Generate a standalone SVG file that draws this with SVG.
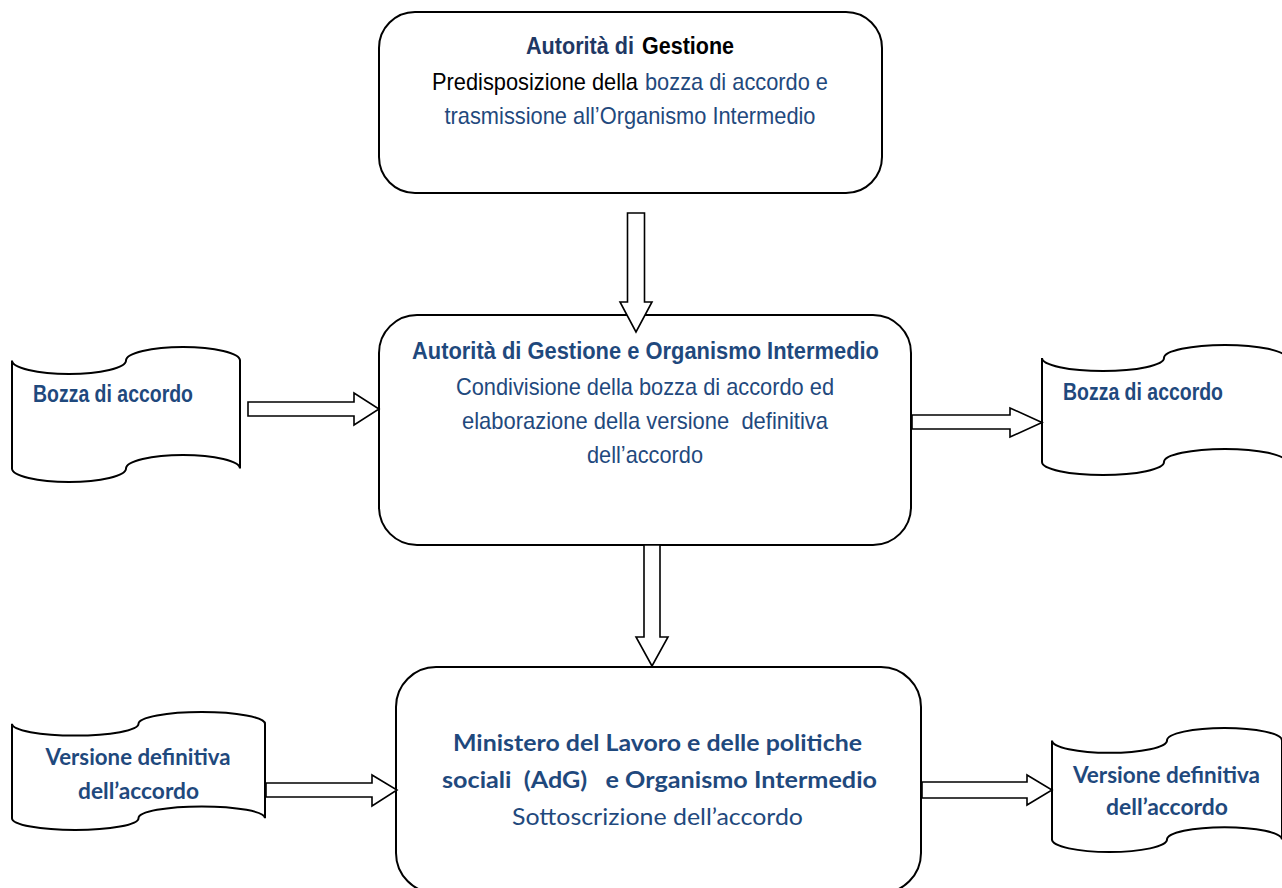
<svg xmlns="http://www.w3.org/2000/svg" width="1282" height="888" viewBox="0 0 1282 888">
  <style>
    .box { fill: #ffffff; stroke: #000000; stroke-width: 2; }
    .tape { fill: #ffffff; stroke: #000000; stroke-width: 2; }
    .arrow { fill: #ffffff; stroke: #000000; stroke-width: 1.6; stroke-linejoin: miter; }
    .ar { font-family: "Liberation Sans", Arial, sans-serif; font-size: 24px; }
    .arb { font-family: "Liberation Sans", Arial, sans-serif; font-size: 23px; font-weight: bold; }
    .cal { font-family: Lato, "Liberation Sans", sans-serif; font-size: 23px; }
    .calb { font-family: Lato, "Liberation Sans", sans-serif; font-size: 23px; font-weight: bold; }
    .calt { font-family: Lato, "Liberation Sans", sans-serif; font-size: 22px; font-weight: bold; }
    .blue { fill: #1F497D; }
    .navy { fill: #1F3864; }
    .black { fill: #000000; }
    .mid { text-anchor: middle; }
  </style>

  <g id="node-adg">
    <rect class="box" x="379" y="12" width="503" height="181" rx="36" ry="36"/>
    <text class="arb navy" x="526" y="54" textLength="108" lengthAdjust="spacingAndGlyphs">Autorità di</text>
    <text class="arb black" x="642" y="54" textLength="92" lengthAdjust="spacingAndGlyphs">Gestione</text>
    <text class="ar black" x="432" y="90" textLength="206" lengthAdjust="spacingAndGlyphs">Predisposizione della</text>
    <text class="ar blue" x="645" y="90" textLength="183" lengthAdjust="spacingAndGlyphs">bozza di accordo e</text>
    <text class="ar mid blue" x="630" y="124" textLength="371" lengthAdjust="spacingAndGlyphs">trasmissione all’Organismo Intermedio</text>
  </g>

  <g id="node-adg-oi">
    <rect class="box" x="379" y="315" width="532" height="230" rx="38" ry="38"/>
    <text class="arb mid blue" x="645.5" y="359" textLength="467" lengthAdjust="spacingAndGlyphs">Autorità di Gestione e Organismo Intermedio</text>
    <text class="ar mid blue" x="645" y="395" textLength="378" lengthAdjust="spacingAndGlyphs">Condivisione della bozza di accordo ed</text>
    <text class="ar mid blue" x="645" y="429" textLength="366" lengthAdjust="spacingAndGlyphs" xml:space="preserve">elaborazione della versione  definitiva</text>
    <text class="ar mid blue" x="645" y="463" textLength="116" lengthAdjust="spacingAndGlyphs">dell’accordo</text>
  </g>

  <g id="node-ministero">
    <rect class="box" x="396" y="667" width="525" height="226" rx="40" ry="40"/>
    <text class="calb mid blue" x="657.5" y="751" textLength="409" lengthAdjust="spacingAndGlyphs">Ministero del Lavoro e delle politiche</text>
    <text class="calb mid blue" x="659.5" y="788" textLength="435" lengthAdjust="spacingAndGlyphs" xml:space="preserve">sociali  (AdG)   e Organismo Intermedio</text>
    <text class="cal mid blue" x="657.5" y="825" textLength="291" lengthAdjust="spacingAndGlyphs">Sottoscrizione dell’accordo</text>
  </g>

  <g id="doc-bozza-in">
    <path class="tape" d="M12,360.5 A57,13.5 0 0 0 126,360.5 A57,13.5 0 0 1 240,360.5 L240,468.5 A57,13.5 0 0 0 126,468.5 A57,13.5 0 0 1 12,468.5 Z"/>
    <text class="arb blue" x="33" y="402" textLength="160" lengthAdjust="spacingAndGlyphs">Bozza di accordo</text>
  </g>

  <g id="doc-bozza-out">
    <path class="tape" d="M1042,358 A61,13 0 0 0 1164,358 A61,13 0 0 1 1286,358 L1286,462 A61,13 0 0 0 1164,462 A61,13 0 0 1 1042,462 Z"/>
    <text class="arb blue" x="1063" y="400" textLength="160" lengthAdjust="spacingAndGlyphs">Bozza di accordo</text>
  </g>

  <g id="doc-versione-in">
    <path class="tape" d="M12,723.8 A63.25,11.8 0 0 0 138.5,723.8 A63.25,11.8 0 0 1 265,723.8 L265,818.2 A63.25,11.8 0 0 0 138.5,818.2 A63.25,11.8 0 0 1 12,818.2 Z"/>
    <text class="calt mid blue" x="138" y="765" textLength="185" lengthAdjust="spacingAndGlyphs">Versione definitiva</text>
    <text class="calt mid blue" x="138.5" y="799" textLength="121" lengthAdjust="spacingAndGlyphs">dell’accordo</text>
  </g>

  <g id="doc-versione-out">
    <path class="tape" d="M1052,740.4 A57.5,12.4 0 0 0 1167,740.4 A57.5,12.4 0 0 1 1282,740.4 L1282,839.6 A57.5,12.4 0 0 0 1167,839.6 A57.5,12.4 0 0 1 1052,839.6 Z"/>
    <text class="calt mid blue" x="1166.5" y="783" textLength="187" lengthAdjust="spacingAndGlyphs">Versione definitiva</text>
    <text class="calt mid blue" x="1167" y="815" textLength="122" lengthAdjust="spacingAndGlyphs">dell’accordo</text>
  </g>

  <g id="connectors">
    <path class="arrow" d="M627.5,213 L644.5,213 L644.5,302 L652,302 L636,332 L620,302 L627.5,302 Z"/>
    <path class="arrow" d="M644,545 L660,545 L660,637 L668,637 L652,666 L636,637 L644,637 Z"/>
    <path class="arrow" d="M248,402 L354,402 L354,393 L379,409 L354,425 L354,416 L248,416 Z"/>
    <path class="arrow" d="M912,415 L1010,415 L1010,408 L1042,422.5 L1010,437 L1010,429 L912,429 Z"/>
    <path class="arrow" d="M266,783 L372,783 L372,775 L397,790 L372,806 L372,797 L266,797 Z"/>
    <path class="arrow" d="M922,782 L1027,782 L1027,775 L1052,790 L1027,805 L1027,798 L922,798 Z"/>
  </g>
</svg>
